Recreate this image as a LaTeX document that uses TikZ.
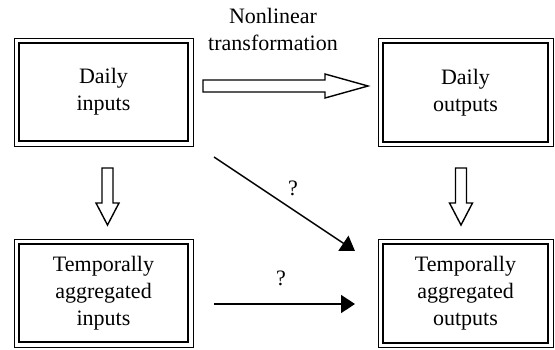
\documentclass[tikz,border=0pt]{standalone}
\usepackage{fontspec}
\setmainfont{Liberation Serif}
\usetikzlibrary{arrows.meta}

\tikzset{
    framebox/.style = {draw, line width=0.5pt, outer sep=0pt, inner sep=0pt,
        minimum width=89.5pt, minimum height=54pt, align=center,
        font=\fontsize{11pt}{13.5pt}\selectfont,
        path picture={\draw[line width=1pt]
            ([shift={(2.3pt,-2.4pt)}]path picture bounding box.north west) rectangle
            ([shift={(-2.3pt,2.4pt)}]path picture bounding box.south east);}},
    blockarrow/.style = {draw, line width=0.7pt, fill=white},
    thinarrow/.style = {line width=0.75pt, -{Triangle[length=7pt,width=9pt]}},
    lbl/.style = {font=\fontsize{11pt}{13.5pt}\selectfont, align=center}
}

\begin{document}
\begin{tikzpicture}[x=0.5pt, y=-0.5pt]
            \useasboundingbox (0,0) rectangle (555,349);

            \node[framebox] (din) at (103.5,92) {Daily\\inputs};
            \node[framebox, minimum width=87.5pt] (dout) at (465.5,92.5) {Daily\\outputs};
            \node[framebox] (tin) at (103.5,293) {Temporally\\aggregated\\inputs};
            \node[framebox, minimum width=87.5pt] (tout) at (465.5,293.5) {Temporally\\aggregated\\outputs};

            % block arrows
            \draw[blockarrow] (203,80) -- (325,80) -- (325,74) -- (368,86) -- (325,98) -- (325,92) -- (203,92) -- cycle;
            \draw[blockarrow] (102,168) -- (113,168) -- (113,203) -- (119,203) -- (107.5,225) -- (96,203) -- (102,203) -- cycle;
            \draw[blockarrow] (455.5,168) -- (466.5,168) -- (466.5,203) -- (472.5,203) -- (461,225) -- (449.5,203) -- (455.5,203) -- cycle;
            \node[lbl] (nonlin) at (273,29) {Nonlinear\\transformation};

            % unknown links
            \coordinate (dstart) at (214,157);
            \coordinate (dend) at (355,251);
            \coordinate (hstart) at (214,304);
            \coordinate (hend) at (355,304);
            \draw[thinarrow] (dstart) -- (dend);
            \draw[thinarrow] (hstart) -- (hend);
            \node[lbl] (qdiag) at (293,188) {?};
            \node[lbl] (qhor) at (281,278) {?};
        \end{tikzpicture}
\end{document}
